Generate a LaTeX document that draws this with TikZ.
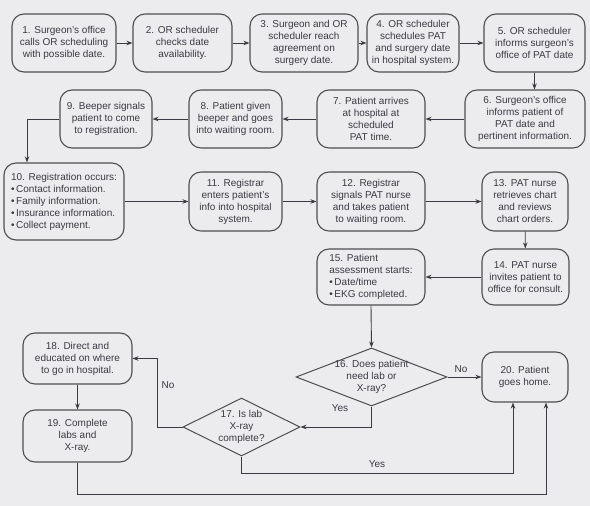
\documentclass[tikz,border=0pt]{standalone}
\usepackage{fontspec}
\setmainfont{Liberation Sans}
\usepackage{tikz}
\usetikzlibrary{shapes.geometric,arrows.meta}
\definecolor{ink}{RGB}{58,58,66}
\definecolor{rim}{RGB}{78,78,82}
\definecolor{paper}{RGB}{236,236,239}

\begin{document}
\begin{tikzpicture}[x=1pt, y=-1pt,
	>={Stealth[length=6pt,width=4.5pt]},
	task/.style={shape=rectangle, draw=rim, line width=1.1pt, rounded corners=12pt, align=center, text=ink, font=\fontsize{10}{12}\selectfont, inner sep=0pt},
	query/.style={shape=diamond, draw=rim, line width=1pt, align=center, text=ink, font=\fontsize{10}{12}\selectfont, inner sep=-3pt},
	note/.style={text=ink, font=\fontsize{10}{12}\selectfont, inner sep=1pt},
	link/.style={draw=ink, line width=0.9pt}]
	
	\fill[paper] (0,0) rectangle (590,506);
	\useasboundingbox (0,0) rectangle (590,506);
	
	\node[task, minimum width=104pt, minimum height=58pt] (n1) at (64, 43)      {1. Surgeon's office\\calls OR scheduling\\with possible date.};
	\node[task, minimum width=99pt, minimum height=58pt]  (n2) at (182.5, 43)   {2. OR scheduler\\checks date\\availability.};
	\node[task, minimum width=108pt, minimum height=58pt] (n3) at (304, 43)     {3. Surgeon and OR\\scheduler reach\\agreement on\\surgery date.};
	\node[task, minimum width=92pt, minimum height=58pt]  (n4) at (413, 43)     {4. OR scheduler\\schedules PAT\\and surgery date\\in hospital system.};
	\node[task, minimum width=101pt, minimum height=58pt] (n5) at (534.5, 43)   {5. OR scheduler\\informs surgeon's\\office of PAT date};
	
	\node[task, minimum width=120pt, minimum height=58pt] (n6) at (525, 119)    {6. Surgeon's office\\informs patient of\\PAT date and\\pertinent information.};
	\node[task, minimum width=108pt, minimum height=58pt] (n7) at (371, 119)    {7. Patient arrives\\at hospital at\\scheduled\\PAT time.};
	\node[task, minimum width=93pt, minimum height=58pt]  (n8) at (235.5, 119)  {8. Patient given\\beeper and goes\\into waiting room.};
	\node[task, minimum width=92pt, minimum height=58pt]  (n9) at (106, 119)    {9. Beeper signals\\patient to come\\to registration.};
	
	\node[task, align=left, minimum width=120pt, minimum height=77pt] (n10) at (64, 201.5) {10. Registration occurs:\\\textbullet\,Contact information.\\\textbullet\,Family information.\\\textbullet\,Insurance information.\\\textbullet\,Collect payment.};
	\node[task, minimum width=93pt, minimum height=59pt]  (n11) at (235.5, 201.5) {11. Registrar\\enters patient's\\info into hospital\\system.};
	\node[task, minimum width=108pt, minimum height=59pt] (n12) at (371, 201.5)   {12. Registrar\\signals PAT nurse\\and takes patient\\to waiting room.};
	\node[task, minimum width=86pt, minimum height=59pt]  (n13) at (525, 201.5)   {13. PAT nurse\\retrieves chart\\and reviews\\chart orders.};
	
	\node[task, minimum width=87pt, minimum height=56pt]  (n14) at (525.5, 277)   {14. PAT nurse\\invites patient to\\office for consult.};
	\node[task, align=left, minimum width=108pt, minimum height=56pt] (n15) at (371, 277) {15. Patient\\assessment starts:\\\textbullet\,Date/time\\\textbullet\,EKG completed.};
	
	\node[query, aspect=2.6, minimum width=151pt, minimum height=58pt] (n16) at (371.5, 377) {16. Does patient\\need lab or\\X-ray?};
	\node[query, aspect=2, minimum width=117pt, minimum height=58pt]   (n17) at (241.5, 427) {17. Is lab\\X-ray\\complete?};
	\node[task, minimum width=109pt, minimum height=51pt] (n18) at (77.5, 358.5)  {18. Direct and\\educated on where\\to go in hospital.};
	\node[task, minimum width=109pt, minimum height=52pt] (n19) at (77.5, 436)    {19. Complete\\labs and\\X-ray.};
	\node[task, minimum width=86pt, minimum height=50pt]  (n20) at (525, 377)     {20. Patient\\goes home.};
	
	\coordinate (c9) at (27, 119);
	\coordinate (c17n) at (157, 427);
	\coordinate (c17y) at (513, 473);
	\coordinate (c19) at (546, 494);
	
	\path[->, link] (n1) edge (n2);
	\path[->, link] (n2) edge (n3);
	\path[->, link] (n3) edge (n4);
	\path[->, link] (n4) edge (n5);
	\draw[->, link] (n5.south) -- (n5.south |- n6.north);
	\path[->, link] (n6) edge (n7);
	\path[->, link] (n7) edge (n8);
	\path[->, link] (n8) edge (n9);
	\draw[->, link] (n9.west) -- (c9) -- (c9 |- n10.north);
	\path[->, link] (n10) edge (n11);
	\path[->, link] (n11) edge (n12);
	\path[->, link] (n12) edge (n13);
	\path[->, link] (n13) edge (n14);
	\path[->, link] (n14) edge (n15);
	\draw[->, link] (n15.south) -- (n16.north);
	\draw[->, link] (n16.east) -- (n20.west);
	\draw[->, link] (n16.south) |- (n17.east);
	\draw[->, link] (n17.west) -- (c17n) |- (n18.east);
	\draw[->, link] (n18) -- (n19);
	\draw[->, link] (n17.south) |- (c17y) -- (c17y |- n20.south);
	\draw[->, link] (n19.south) |- (c19) -- (c19 |- n20.south);
	
	\node[note] (no16) at (461, 369)  {No};
	\node[note] (yes16) at (340, 408) {Yes};
	\node[note] (no17) at (168, 385)  {No};
	\node[note] (yes17) at (377, 464) {Yes};
	
\end{tikzpicture}
\end{document}
